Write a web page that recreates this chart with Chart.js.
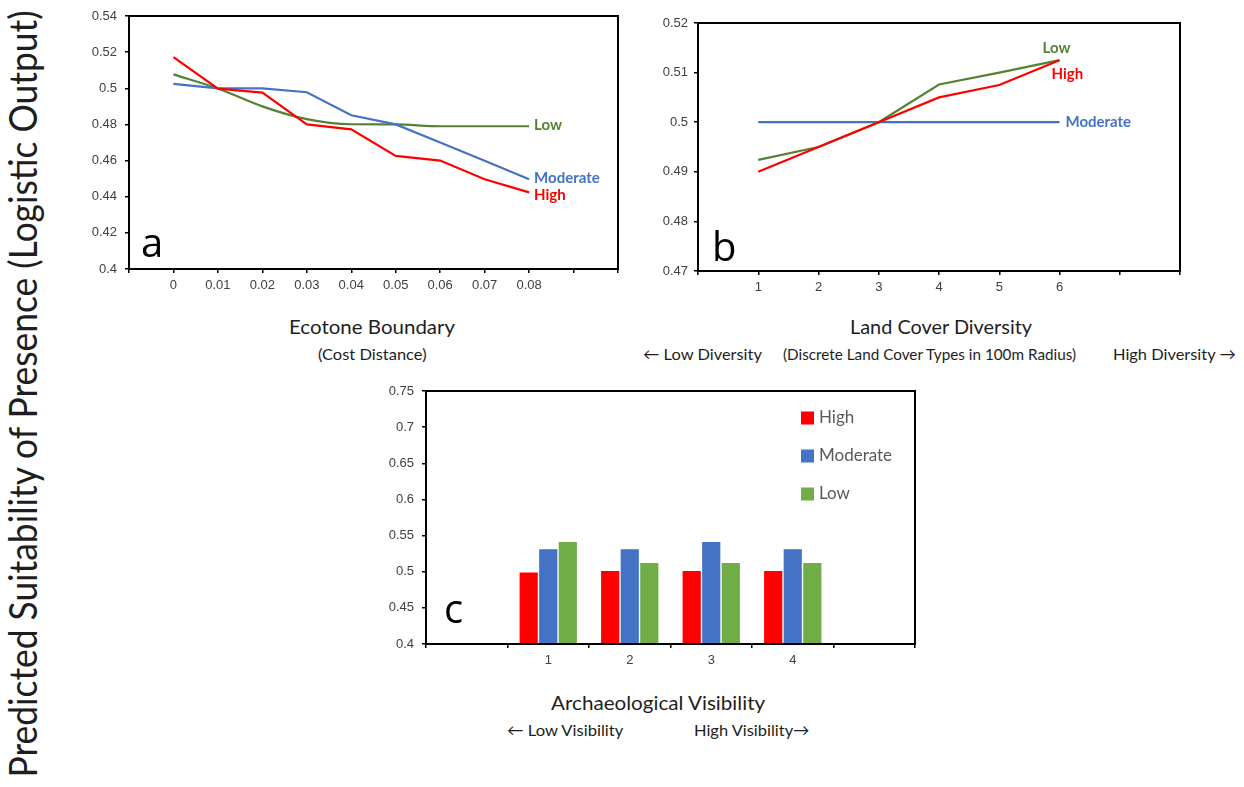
<!DOCTYPE html>
<html><head><meta charset="utf-8">
<script src="https://cdn.jsdelivr.net/npm/chart.js@4/dist/chart.umd.min.js"></script>
<style>
html,body{margin:0;padding:0;background:#fff;width:1244px;height:787px;overflow:hidden;position:relative;}
canvas{position:absolute;}
.t{position:absolute;white-space:nowrap;font-family:Lato,'Open Sans',sans-serif;color:#1e1e1e;transform-origin:0 0;}
</style></head><body>
<canvas id="ca" width="580" height="300" style="left:60px;top:0px"></canvas>
<canvas id="cb" width="600" height="300" style="left:640px;top:0px"></canvas>
<canvas id="cc" width="560" height="300" style="left:380px;top:375px"></canvas>
<script>
// ---------- DATA ----------
const ecotoneX = [0, 0.01, 0.02, 0.03, 0.04, 0.05, 0.06, 0.07, 0.08];
const ecotoneHigh = [0.5173, 0.4998, 0.4976, 0.4800, 0.4773, 0.4626, 0.4600, 0.4497, 0.4424];
const ecotoneModerate = [0.5024, 0.4999, 0.4999, 0.4978, 0.4851, 0.4800, 0.4700, 0.4599, 0.4497];
const ecotoneLow = [0.5077, 0.4999, 0.4900, 0.4829, 0.4801, 0.4800, 0.4790, 0.4790, 0.4790];
const ecotoneTickValues = [-0.01, 0, 0.01, 0.02, 0.03, 0.04, 0.05, 0.06, 0.07, 0.08, 0.09, 0.1];
const ecotoneTickLabels = ['', '0', '0.01', '0.02', '0.03', '0.04', '0.05', '0.06', '0.07', '0.08', '', ''];

const diversityX = [1, 2, 3, 4, 5, 6];
const diversityHigh = [0.4900, 0.4950, 0.5000, 0.5050, 0.5075, 0.5125];
const diversityModerate = [0.5000, 0.5000, 0.5000, 0.5000, 0.5000, 0.5000];
const diversityLow = [0.4924, 0.4950, 0.5000, 0.5076, 0.5100, 0.5125];
const diversityTickValues = [0, 1, 2, 3, 4, 5, 6, 7, 8];
const diversityTickLabels = ['', '1', '2', '3', '4', '5', '6', '', ''];

const visibilityLevels = ['1', '2', '3', '4'];
const visibilityHigh = [0.499, 0.501, 0.501, 0.501];
const visibilityModerate = [0.531, 0.531, 0.541, 0.531];
const visibilityLow = [0.541, 0.512, 0.512, 0.512];

const seriesNames = ['High', 'Moderate', 'Low'];

// ---------- STYLE ----------
const RED = '#FF0000', BLUE = '#4472C4', GREEN_LINE = '#548235', GREEN_BAR = '#70AD47';
const TICK_FONT = {family: '"Liberation Sans", Arial, sans-serif', size: 13};
const TICK_COLOR = '#404040';
Chart.defaults.animation = false;
Chart.defaults.responsive = false;
Chart.defaults.plugins.legend.display = false;
Chart.defaults.plugins.tooltip.enabled = false;

const fmt = v => String(Number(Number(v).toFixed(2)));

const frame = {
  id: 'frame',
  afterDraw(chart, args, o) {
    const {ctx, chartArea: a} = chart;
    ctx.save();
    ctx.strokeStyle = '#000'; ctx.lineWidth = 2;
    ctx.strokeRect(a.left, a.top, a.right - a.left, a.bottom - a.top);
    ctx.font = '40px "Open Sans"'; ctx.fillStyle = '#000'; ctx.textBaseline = 'alphabetic'; ctx.textAlign = 'left';
    ctx.fillText(o.letter, a.left + o.lx, a.bottom - o.ly);
    ctx.restore();
  }
};
const endLabels = {
  id: 'endLabels',
  afterDatasetsDraw(chart, args, o) {
    if (!o.items) return;
    const ctx = chart.ctx; ctx.save();
    ctx.font = `bold ${o.size}px Lato`; ctx.textBaseline = 'middle'; ctx.textAlign = 'left';
    o.items.forEach(it => {
      const meta = chart.getDatasetMeta(it.ds);
      const pt = meta.data[meta.data.length - 1];
      ctx.fillStyle = it.color;
      ctx.fillText(chart.data.datasets[it.ds].label, pt.x + it.dx, pt.y + it.dy);
    });
    ctx.restore();
  }
};
const boxLegend = {
  id: 'boxLegend',
  afterDraw(chart, args, o) {
    if (!o.show) return;
    const {ctx, chartArea: a} = chart; ctx.save();
    ctx.font = `${o.size}px Lato`; ctx.textBaseline = 'middle'; ctx.textAlign = 'left';
    chart.data.datasets.forEach((d, i) => {
      const y = a.top + o.top + i * o.step;
      const x = a.right - o.right;
      ctx.fillStyle = d.backgroundColor;
      ctx.fillRect(x, y - 6.5, 13, 13);
      ctx.fillStyle = '#595959';
      ctx.fillText(d.label, x + 18, y);
    });
    ctx.restore();
  }
};

function yAxis(min, max, step, width, pad) {
  return {
    min, max,
    ticks: {stepSize: step, font: TICK_FONT, color: TICK_COLOR, padding: pad, callback: fmt},
    grid: {drawOnChartArea: false, drawTicks: true, tickLength: 4, color: '#000', lineWidth: 1.5},
    border: {display: true, color: '#000', width: 2},
    afterFit(s) { s.width = width; }
  };
}

// ---------- PANEL a ----------
new Chart(document.getElementById('ca'), {
  type: 'line',
  data: {
    datasets: [
      {label: seriesNames[0], data: ecotoneX.map((x, i) => ({x, y: ecotoneHigh[i]})), borderColor: RED},
      {label: seriesNames[1], data: ecotoneX.map((x, i) => ({x, y: ecotoneModerate[i]})), borderColor: BLUE},
      {label: seriesNames[2], data: ecotoneX.map((x, i) => ({x, y: ecotoneLow[i]})), borderColor: GREEN_LINE, cubicInterpolationMode: 'monotone'}
    ].map(d => Object.assign({borderWidth: 2.2, pointRadius: 0, fill: false}, d))
  },
  options: {
    layout: {padding: {top: 16, right: 22, left: 0, bottom: 0}},
    scales: {
      x: {
        type: 'linear', min: -0.01, max: 0.1,
        afterBuildTicks(s) { s.ticks = ecotoneTickValues.map(v => ({value: v})); },
        ticks: {font: TICK_FONT, color: TICK_COLOR, padding: 5, maxRotation: 0, autoSkip: false,
                callback: (v, i) => ecotoneTickLabels[i]},
        grid: {drawOnChartArea: false, drawTicks: true, tickLength: 4, color: '#000', lineWidth: 1.5},
        border: {display: true, color: '#000', width: 2},
        afterFit(s) { s.height = 31; }
      },
      y: yAxis(0.4, 0.54, 0.02, 69, 8)
    },
    plugins: {
      frame: {letter: 'a', lx: 12, ly: 12},
      endLabels: {size: 15, items: [
        {ds: 2, dx: 5, dy: -1, color: GREEN_LINE},
        {ds: 1, dx: 5, dy: -1, color: BLUE},
        {ds: 0, dx: 5, dy: 3, color: RED}
      ]}
    }
  },
  plugins: [frame, endLabels]
});

// ---------- PANEL b ----------
new Chart(document.getElementById('cb'), {
  type: 'line',
  data: {
    datasets: [
      {label: seriesNames[0], data: diversityX.map((x, i) => ({x, y: diversityHigh[i]})), borderColor: RED},
      {label: seriesNames[1], data: diversityX.map((x, i) => ({x, y: diversityModerate[i]})), borderColor: BLUE},
      {label: seriesNames[2], data: diversityX.map((x, i) => ({x, y: diversityLow[i]})), borderColor: GREEN_LINE}
    ].map(d => Object.assign({borderWidth: 2.2, pointRadius: 0, fill: false}, d))
  },
  options: {
    layout: {padding: {top: 23, right: 60, left: 0, bottom: 0}},
    scales: {
      x: {
        type: 'linear', min: 0, max: 8,
        afterBuildTicks(s) { s.ticks = diversityTickValues.map(v => ({value: v})); },
        ticks: {font: TICK_FONT, color: TICK_COLOR, padding: 5, maxRotation: 0, autoSkip: false,
                callback: (v, i) => diversityTickLabels[i]},
        grid: {drawOnChartArea: false, drawTicks: true, tickLength: 4, color: '#000', lineWidth: 1.5},
        border: {display: true, color: '#000', width: 2},
        afterFit(s) { s.height = 29; }
      },
      y: yAxis(0.47, 0.52, 0.01, 58, 6)
    },
    plugins: {
      frame: {letter: 'b', lx: 14, ly: 10},
      endLabels: {size: 15, items: [
        {ds: 2, dx: -17, dy: -12, color: GREEN_LINE},
        {ds: 0, dx: -8, dy: 14, color: RED},
        {ds: 1, dx: 6, dy: 0, color: BLUE}
      ]}
    }
  },
  plugins: [frame, endLabels]
});

// ---------- PANEL c ----------
const visibilityCats = [''].concat(visibilityLevels, ['']);
const pad = arr => [null].concat(arr, [null]);
new Chart(document.getElementById('cc'), {
  type: 'bar',
  data: {
    labels: visibilityCats,
    datasets: [
      {label: seriesNames[0], data: pad(visibilityHigh), backgroundColor: RED},
      {label: seriesNames[1], data: pad(visibilityModerate), backgroundColor: BLUE},
      {label: seriesNames[2], data: pad(visibilityLow), backgroundColor: GREEN_BAR}
    ].map(d => Object.assign({categoryPercentage: 0.72, barPercentage: 0.93, borderWidth: 0}, d))
  },
  options: {
    layout: {padding: {top: 16, right: 25, left: 0, bottom: 0}},
    scales: {
      x: {
        ticks: {font: TICK_FONT, color: TICK_COLOR, padding: 5, maxRotation: 0, autoSkip: false},
        grid: {offset: true, drawOnChartArea: false, drawTicks: true, tickLength: 4, color: '#000', lineWidth: 1.5},
        border: {display: true, color: '#000', width: 2},
        afterFit(s) { s.height = 31; }
      },
      y: yAxis(0.4, 0.75, 0.05, 46, 8)
    },
    plugins: {
      frame: {letter: 'c', lx: 18, ly: 21},
      boxLegend: {show: true, size: 17, top: 27, step: 38, right: 114}
    }
  },
  plugins: [frame, boxLegend]
});

// ---------- TEXT ----------
const texts = [
  {s: 'Ecotone Boundary', cx: 372, cy: 326, w: 166, size: 20},
  {s: '(Cost Distance)', cx: 372, cy: 354, w: 109, size: 16},
  {s: 'Land Cover Diversity', cx: 941, cy: 326, w: 182, size: 20},
  {s: '\u2190 Low Diversity', left: 643, cy: 354, w: 119, size: 16},
  {s: '(Discrete Land Cover Types in 100m Radius)', left: 783, cy: 354, w: 293, size: 16},
  {s: 'High Diversity \u2192', left: 1113, cy: 354, w: 123, size: 16},
  {s: 'Archaeological Visibility', left: 551, cy: 702, w: 214, size: 19},
  {s: '\u2190 Low Visibility', left: 507, cy: 730, w: 116, size: 16},
  {s: 'High Visibility\u2192', left: 694, cy: 730, w: 116, size: 16}
];
texts.forEach(t => {
  const d = document.createElement('div');
  d.className = 't'; d.textContent = t.s;
  d.style.fontSize = t.size + 'px'; d.style.lineHeight = t.size + 'px';
  document.body.appendChild(d);
  const w = d.offsetWidth, h = d.offsetHeight;
  const left = t.left !== undefined ? t.left : t.cx - t.w / 2;
  d.style.left = left + 'px'; d.style.top = (t.cy - h / 2) + 'px';
  d.style.transform = `scaleX(${t.w / w})`;
});
(function () {
  const d = document.createElement('div');
  d.className = 't'; d.textContent = 'Predicted Suitability of Presence (Logistic Output)';
  d.style.fontSize = '38px'; d.style.lineHeight = '38px'; d.style.left = '0px'; d.style.top = '0px';
  document.body.appendChild(d);
  const w = d.offsetWidth, h = d.offsetHeight;
  const k = 767 / w;
  d.style.transform = `translate(22px,394px) rotate(-90deg) scale(${k},1) translate(${-w / 2}px,${-h / 2}px)`;
})();
</script>
</body></html>
